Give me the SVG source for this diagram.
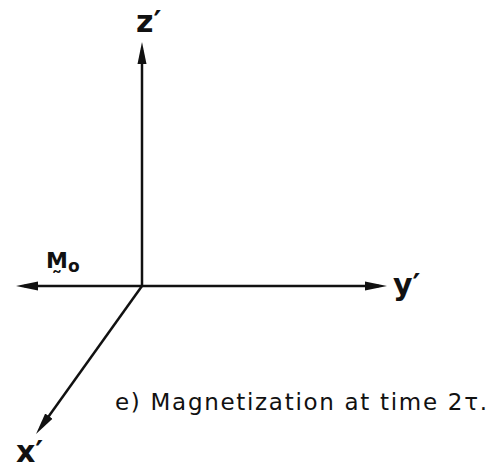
<svg xmlns="http://www.w3.org/2000/svg" width="492" height="471" viewBox="0 0 492 471">
<defs>
<style>
.axis{stroke:#111;stroke-width:2.5;fill:none;marker-end:url(#ah)}
.lbl{font-family:"DejaVu Sans",sans-serif;font-weight:bold;font-size:30px;fill:#111}
.cap{font-family:"DejaVu Sans",sans-serif;font-size:23px;fill:#111}
.m{font-family:"DejaVu Sans",sans-serif;font-weight:bold;font-size:22px;fill:#111}
</style>
<marker id="ah" markerUnits="userSpaceOnUse" markerWidth="24" markerHeight="10" viewBox="0 -5 24 10" refX="14" refY="0" orient="auto">
<path d="M0,-4.5 L22,0 L0,4.5 Z" fill="#111"/>
</marker>
</defs>
<rect width="492" height="471" fill="#fff"/>
<g id="connectors">
<line class="axis" x1="142" y1="286" x2="142" y2="50"/>
<line class="axis" x1="142" y1="286" x2="379" y2="286"/>
<line class="axis" x1="142" y1="286" x2="24" y2="286"/>
<line class="axis" x1="142" y1="286" x2="40.7" y2="427.5"/>
</g>
<g id="z-axis-label"><text class="lbl" x="136" y="32">z′</text></g>
<g id="y-axis-label"><text class="lbl" x="393" y="295">y′</text></g>
<g id="x-axis-label"><text class="lbl" x="16" y="462">x′</text></g>
<g id="M0"><text class="m" x="46" y="268">M̰<tspan font-size="17" dy="4">o</tspan></text></g>
<g id="caption"><text class="cap" x="115" y="410" textLength="372" lengthAdjust="spacing">e) Magnetization at time 2τ.</text></g>
</svg>
